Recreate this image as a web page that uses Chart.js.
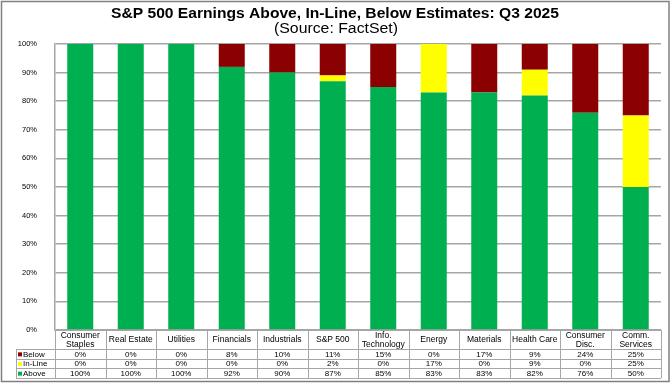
<!DOCTYPE html>
<html>
<head>
<meta charset="utf-8">
<script src="https://cdn.jsdelivr.net/npm/chart.js@4.4.1/dist/chart.umd.min.js"></script>
<style>
  html, body { margin: 0; padding: 0; background: #ffffff; }
  #wrap { width: 672px; height: 384px; position: relative; }
</style>
</head>
<body>
<div id="wrap"><canvas id="c" width="672" height="384"></canvas></div>
<script>
const categories = ['Consumer Staples', 'Real Estate', 'Utilities', 'Financials', 'Industrials', 'S&P 500', 'Info. Technology', 'Energy', 'Materials', 'Health Care', 'Consumer Disc.', 'Comm. Services'];
const headerLines = [['Consumer', 'Staples'], ['Real Estate'], ['Utilities'], ['Financials'], ['Industrials'], ['S&P 500'], ['Info.', 'Technology'], ['Energy'], ['Materials'], ['Health Care'], ['Consumer', 'Disc.'], ['Comm.', 'Services']];
const below = [0, 0, 0, 8, 10, 11, 15, 0, 17, 9, 24, 25];
const inLine = [0, 0, 0, 0, 0, 2, 0, 17, 0, 9, 0, 25];
const above = [100, 100, 100, 92, 90, 87, 85, 83, 83, 82, 76, 50];
const seriesNames = ['Below', 'In-Line', 'Above'];
const titleText = 'S&P 500 Earnings Above, In-Line, Below Estimates: Q3 2025';
const subtitleText = '(Source: FactSet)';

const COLORS = { Below: '#8B0000', 'In-Line': '#FFFF00', Above: '#00B050' };
const FONT = "'Liberation Sans', Arial, sans-serif";
const LINE = '#a6a6a6';

function stretchedText(ctx, text, cx, cy, font, targetW) {
  ctx.save();
  ctx.font = font;
  const w = ctx.measureText(text).width;
  const s = targetW / w;
  ctx.translate(cx, cy);
  ctx.scale(s, 1);
  ctx.textAlign = 'center';
  ctx.textBaseline = 'middle';
  ctx.fillText(text, 0, 0);
  ctx.restore();
}

const tablePlugin = {
  id: 'tablePlugin',
  afterDraw(chart) {
    const ctx = chart.ctx;
    const xs = chart.scales.x;
    const area = chart.chartArea;
    const n = categories.length;
    const colW = (area.right - area.left) / n;
    const top = area.bottom;
    const hdrBottom = 349;
    const rowYs = [349, 358.7, 368.3, 378];
    const labelLeft = 16;
    ctx.save();
    // title
    ctx.fillStyle = '#000';
    stretchedText(ctx, titleText, 335, 14, "bold 14px " + FONT, 448);
    stretchedText(ctx, subtitleText, 336, 29.5, "14px " + FONT, 124);

    // table lines
    ctx.strokeStyle = LINE;
    ctx.lineWidth = 1;
    ctx.beginPath();
    for (let i = 0; i <= n; i++) {
      const x = Math.round(area.left + i * colW) + 0.5;
      ctx.moveTo(x, top);
      ctx.lineTo(x, rowYs[3]);
    }
    ctx.moveTo(labelLeft + 0.5, rowYs[0]);
    ctx.lineTo(labelLeft + 0.5, rowYs[3]);
    ctx.moveTo(area.left, top + 0.5);
    ctx.lineTo(area.right, top + 0.5);
    rowYs.forEach(y => {
      const yy = Math.round(y) + 0.5;
      ctx.moveTo(labelLeft, yy);
      ctx.lineTo(area.right, yy);
    });
    ctx.stroke();

    // header text
    ctx.fillStyle = '#000';
    ctx.textAlign = 'center';
    ctx.textBaseline = 'middle';
    ctx.font = "8.5px " + FONT;
    for (let i = 0; i < n; i++) {
      const cx = xs.getPixelForValue(i);
      const lines = headerLines[i];
      const mid = (top + hdrBottom) / 2 + 0.5;
      const lh = 8.5;
      lines.forEach((t, k) => {
        const y = mid + (k - (lines.length - 1) / 2) * lh;
        ctx.fillText(t, cx, y);
      });
    }
    // rows
    const rows = [below, inLine, above];
    ctx.font = "8px " + FONT;
    rows.forEach((vals, r) => {
      const yMid = (rowYs[r] + rowYs[r + 1]) / 2 + 0.5;
      for (let i = 0; i < n; i++) {
        ctx.textAlign = 'center';
        ctx.fillText(vals[i] + '%', xs.getPixelForValue(i), yMid);
      }
      // legend key
      ctx.fillStyle = COLORS[seriesNames[r]];
      ctx.fillRect(18, yMid - 2, 4, 4);
      ctx.fillStyle = '#000';
      ctx.textAlign = 'left';
      ctx.fillText(seriesNames[r], 23, yMid);
    });
    // outer border
    ctx.strokeStyle = '#808080';
    ctx.lineWidth = 1.5;
    ctx.strokeRect(1.5, 1.5, 667.5, 380);
    ctx.restore();
  }
};

const datasets = [
  { label: 'Above', data: above, backgroundColor: COLORS.Above },
  { label: 'In-Line', data: inLine, backgroundColor: COLORS['In-Line'] },
  { label: 'Below', data: below, backgroundColor: COLORS.Below }
].map(d => Object.assign(d, { barPercentage: 0.515, categoryPercentage: 1.0, borderWidth: 0 }));

new Chart(document.getElementById('c'), {
  type: 'bar',
  data: { labels: categories, datasets },
  options: {
    responsive: false,
    devicePixelRatio: 1,
    animation: false,
    layout: { padding: { top: 44, bottom: 54, left: 0, right: 11 } },
    plugins: { legend: { display: false }, title: { display: false }, tooltip: { enabled: false } },
    scales: {
      x: { stacked: true, display: false },
      y: {
        stacked: true,
        min: 0, max: 100,
        afterFit(scale) { scale.width = 55; },
        grid: { color: LINE, lineWidth: 1.5, drawTicks: false },
        border: { display: true, color: LINE, width: 1.5 },
        ticks: {
          stepSize: 10,
          padding: 18,
          color: '#000',
          font: { family: FONT, size: 7.5 },
          callback: v => v + '%'
        }
      }
    }
  },
  plugins: [tablePlugin]
});
</script>
</body>
</html>
